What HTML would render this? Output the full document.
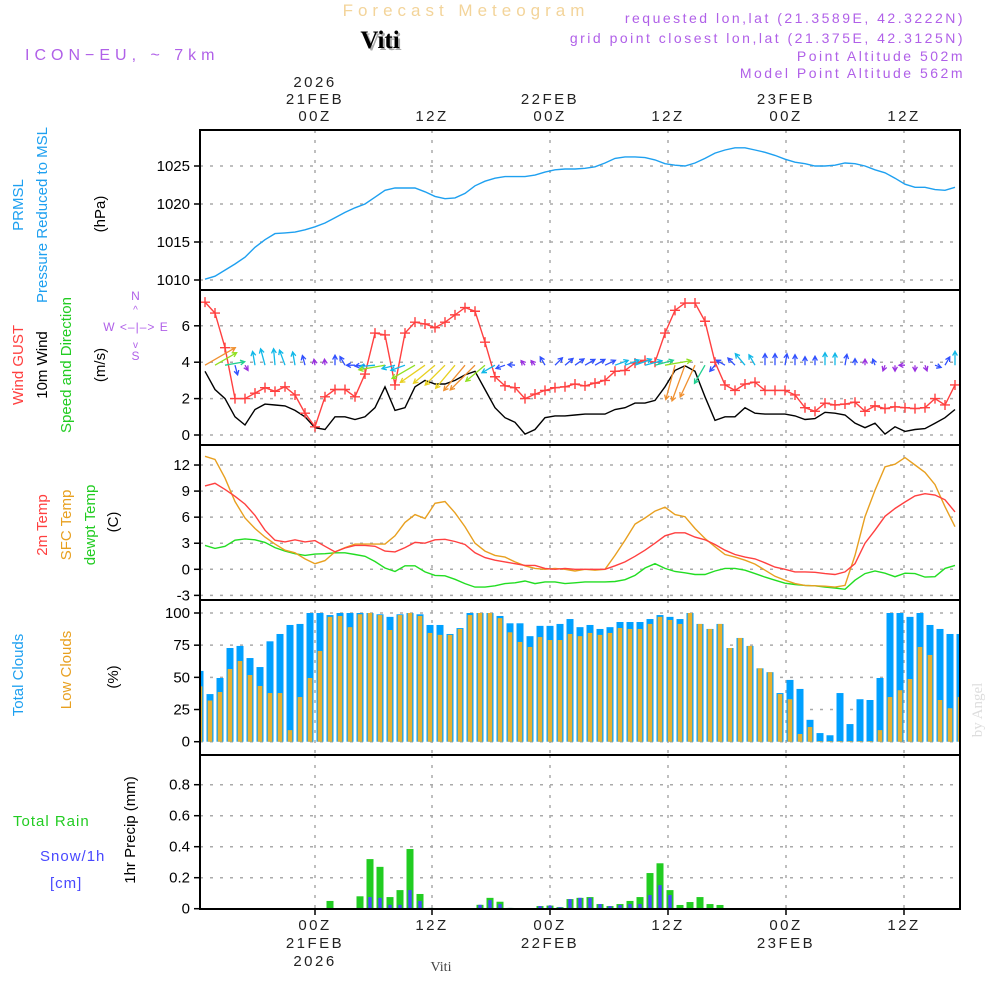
<!DOCTYPE html>
<html><head><meta charset="utf-8">
<style>
html,body{margin:0;padding:0;background:#fff;}
svg{display:block;font-family:"Liberation Sans",sans-serif;}
</style></head>
<body>
<svg id="chart" width="1000" height="1000" viewBox="0 0 1000 1000" xmlns="http://www.w3.org/2000/svg">
<defs><clipPath id="plotclip"><rect x="201" y="0" width="758" height="1000"/></clipPath></defs>
<text x="466" y="16" text-anchor="middle" font-size="17" fill="#f3d49a" letter-spacing="5">Forecast Meteogram</text>
<text x="380" y="48" text-anchor="middle" font-size="25" font-weight="bold" font-family="Liberation Serif, serif" fill="#aaa" transform="translate(2,2)">Viti</text>
<text x="380" y="48" text-anchor="middle" font-size="25" font-weight="bold" font-family="Liberation Serif, serif" fill="#000">Viti</text>
<text x="25" y="60" font-size="16" fill="#b060e8" letter-spacing="5">ICON−EU, ~ 7km</text>
<g font-size="14" fill="#b060e8" text-anchor="end" letter-spacing="2.5">
<text x="965" y="23">requested lon,lat (21.3589E, 42.3222N)</text>
<text x="965" y="43">grid point closest lon,lat (21.375E, 42.3125N)</text>
<text x="965" y="61">Point Altitude 502m</text>
<text x="965" y="78">Model Point Altitude 562m</text>
</g>
<g id="grid"></g>
<g id="marks" clip-path="url(#plotclip)"></g>
<g id="frames"></g>
<g id="labels"></g>
<text x="441" y="971" text-anchor="middle" font-size="14" font-family="Liberation Serif, serif" fill="#444">Viti</text>
<text transform="translate(982,710) rotate(-90)" text-anchor="middle" font-size="15" font-family="Liberation Serif, serif" fill="#ddd">by Angel</text>
</svg>
<script>
const NS="http://www.w3.org/2000/svg";
// ---- data (hourly) ----
const pressure=[1010.1,1010.5,1011.3,1012.1,1013,1014.3,1015.3,1016.1,1016.2,1016.3,1016.6,1017,1017.5,1018.2,1018.9,1019.5,1020,1020.9,1021.8,1022.1,1022.1,1022.1,1021.6,1021,1020.7,1020.8,1021.4,1022.4,1023,1023.4,1023.6,1023.6,1023.6,1023.8,1024.2,1024.5,1024.6,1024.6,1024.7,1024.9,1025.4,1026,1026.2,1026.2,1026.1,1025.8,1025.3,1025.1,1025,1025.4,1026,1026.7,1027.1,1027.4,1027.4,1027.1,1026.8,1026.4,1025.9,1025.5,1025.3,1025,1025,1025.1,1025.4,1025.3,1025,1024.5,1024.1,1023.4,1022.6,1022.2,1022.2,1021.9,1021.8,1022.2];
const gust=[7.3,6.7,4.8,2.0,2.0,2.3,2.6,2.4,2.65,2.2,1.2,0.45,2.1,2.5,2.5,2.1,3.35,5.6,5.5,2.75,5.6,6.2,6.1,5.9,6.2,6.6,7.0,6.8,5.1,3.2,2.7,2.6,2.0,2.25,2.45,2.6,2.65,2.8,2.7,2.85,3.0,3.5,3.55,3.95,4.1,4.0,5.6,6.85,7.25,7.25,6.25,4.0,2.75,2.45,2.8,2.9,2.45,2.45,2.45,2.2,1.5,1.3,1.75,1.65,1.7,1.8,1.3,1.6,1.45,1.55,1.5,1.45,1.5,2.0,1.65,2.75];
const wind10=[3.5,2.5,2.0,1.0,0.55,1.4,1.7,1.65,1.6,1.35,1.0,0.4,0.3,1.0,1.0,0.85,1.0,1.5,2.65,1.35,1.5,2.65,3.0,2.8,2.8,3.0,3.3,3.5,2.5,1.5,0.95,0.7,0.05,0.3,0.95,1.05,1.05,1.1,1.15,1.15,1.15,1.4,1.5,1.75,1.75,1.9,2.65,3.55,3.8,3.5,2.1,0.8,1.0,1.0,1.5,1.2,1.15,1.15,1.15,1.05,0.85,0.9,1.25,1.2,1.1,0.65,0.4,0.65,0.05,0.45,0.2,0.3,0.35,0.65,0.95,1.4];
const windDir=[60,60,80,165,150,350,345,355,340,350,345,350,355,0,330,270,265,265,260,255,250,240,235,230,225,220,220,225,230,240,250,275,320,320,330,45,50,55,60,60,65,70,70,70,75,75,80,195,200,205,210,220,300,315,320,330,0,0,10,0,0,0,0,0,10,0,0,340,200,180,270,180,160,110,30,0];
const temp2m=[9.6,9.9,9.2,8.4,7.5,6.2,4.5,3.35,3.15,3.4,3.15,3.3,2.65,2.0,2.45,2.75,2.75,2.65,2.1,2.0,2.5,3.1,3.0,3.4,3.45,3.2,2.85,1.9,1.35,1.05,0.85,0.65,0.45,0.45,0.1,0.0,0.1,0.0,0.0,0.0,0.0,0.4,0.85,1.5,2.2,3.0,3.85,4.2,4.2,3.7,3.4,2.85,2.2,1.7,1.4,1.2,0.75,0.25,0,-0.3,-0.3,-0.35,-0.5,-0.6,-0.3,0.65,3.0,4.5,6.1,7.0,7.75,8.45,8.7,8.55,8.0,6.6];
const tempSfc=[13.0,12.65,10.5,7.8,5.9,4.7,3.7,2.9,2.2,1.9,1.2,0.65,1.0,2.0,2.5,2.9,2.9,2.9,2.9,3.85,5.4,6.3,5.85,7.6,7.8,6.5,4.9,3.0,2.1,1.6,1.4,0.85,0.4,0.1,0.0,0.1,0.0,-0.2,0.0,-0.1,0.0,1.6,3.35,5.2,5.9,6.7,7.15,6.3,6.05,4.7,3.55,2.6,1.7,1.4,1.05,0.6,-0.1,-0.8,-1.25,-1.65,-1.85,-1.9,-1.95,-2.05,-1.85,1.6,6.05,9.1,11.8,12.1,12.85,12.0,11.15,9.75,7.2,4.9];
const dewpt=[2.75,2.4,2.65,3.35,3.5,3.4,3.1,2.5,2.1,1.8,1.6,1.75,1.8,1.9,1.9,1.7,1.5,0.9,0.15,-0.25,0.4,0.4,-0.3,-0.7,-0.75,-1.15,-1.65,-2.05,-2.05,-1.9,-1.65,-1.55,-1.35,-1.65,-1.45,-1.45,-1.65,-1.55,-1.45,-1.45,-1.45,-1.4,-1.2,-0.7,0.15,0.65,0.1,-0.25,-0.4,-0.6,-0.6,-0.2,0.1,0.1,-0.1,-0.5,-0.9,-1.25,-1.6,-1.75,-1.85,-1.9,-2.05,-2.15,-2.3,-1.25,-0.5,-0.2,-0.45,-0.85,-0.45,-0.5,-0.9,-0.85,0.1,0.45];
const totalCloud=[55,37,49.5,72.8,74.4,65,58,78,83.7,90.7,91.5,100,100,98.4,100,100,100,100,99,97,99,100,99,90.7,90.7,83.7,88.3,100,100,100,97.7,92,92,82,90,90,91.5,95.3,89,90.7,87.6,89,93,93,93,95.3,98.4,97,95.3,100,91.5,87.6,91.5,72.8,80.6,74.4,57,54,37.8,48,41,17,6.7,5,37.8,13.7,33,32.4,49.5,100,100,97,100,90.7,87.6,83.7,83.7];
const lowCloud=[43,32,38.6,56.5,62.7,51.8,43.3,37.8,37.8,9,34.7,49.5,70.5,97,97.7,89,99,100,98.4,86.8,98.4,100,97.7,84.5,83,83,87.6,98.4,100,100,96,85,77.5,73.6,81.3,79,79,83.7,82,84.5,83,84.5,88.3,87.6,87.6,91.5,97,94.6,91.5,100,91.5,87.6,91.5,72.8,80.6,74.4,57,54,37,33,6,11.4,0.5,0.5,0.5,0.5,0.5,0.5,9,34.7,40,48.7,73.6,67.4,32.4,26,34.7];
const totalRain=[0,0,0,0,0,0,0,0,0,0,0,0,0,0.05,0,0,0.08,0.32,0.27,0.075,0.12,0.385,0.095,0.005,0,0,0,0,0.025,0.07,0.045,0.005,0,0.004,0.017,0.02,0.01,0.062,0.07,0.075,0.03,0.017,0.03,0.05,0.075,0.23,0.293,0.12,0.024,0.043,0.075,0.03,0.024,0.003,0,0,0,0,0,0,0,0,0,0,0,0,0,0,0,0,0,0,0,0.004,0,0,0];
const snow=[0,0,0,0,0,0,0,0,0,0,0,0,0.004,0,0,0,0.005,0.075,0.07,0.025,0.025,0.12,0.05,0.005,0,0,0,0,0.025,0.055,0.03,0.005,0,0.004,0.017,0.02,0.01,0.062,0.07,0.07,0.03,0.017,0.024,0.03,0.03,0.088,0.152,0.088,0,0,0,0,0,0,0,0,0,0,0,0,0,0,0,0,0,0,0,0,0,0,0,0,0,0.004,0,0,0];
const pTicks=[1010,1015,1020,1025];
const wTicks=[0,2,4,6];
const tTicks=[-3,0,3,6,9,12];
const cTicks=[0,25,50,75,100];
const rTicks=[0,0.2,0.4,0.6,0.8];
const timeTicks=[{x:315,t:"00Z",d:"21FEB",y:"2026"},{x:432,t:"12Z"},{x:550,t:"00Z",d:"22FEB"},{x:668,t:"12Z"},{x:786,t:"00Z",d:"23FEB"},{x:904,t:"12Z"}];

// ---- scales ----
const xLine=i=>205+10*i;
const xBar=i=>200+10*i;
const yP=v=>280-(v-1010)*7.6;
const yW=v=>435-v*18.2;
const yT=v=>569.3-v*8.69;
const yC=v=>741.7-v*1.287;
const yR=v=>908.7-v*155;
const panels=[{top:130,bot:290,ticks:pTicks,ys:yP,name:"pressure"},{top:290,bot:445,ticks:wTicks,ys:yW,name:"wind"},{top:445,bot:600,ticks:tTicks,ys:yT,name:"temperature"},{top:600,bot:755,ticks:cTicks,ys:yC,name:"clouds"},{top:755,bot:909,ticks:rTicks,ys:yR,name:"precip"}];

function mk(tag,attrs,parent){const e=document.createElementNS(NS,tag);for(const k in attrs)e.setAttribute(k,attrs[k]);parent.appendChild(e);return e;}
const grid=document.getElementById('grid'),marks=document.getElementById('marks'),frames=document.getElementById('frames'),labels=document.getElementById('labels');

panels.forEach(p=>{
  p.ticks.forEach(v=>{
    const y=p.ys(v);
    const g=mk('line',{x1:200,x2:960,y1:y,y2:y,stroke:'#aaa','stroke-width':1.5,'stroke-dasharray':'3 7'},grid);
    
    
    mk('line',{x1:194,x2:200,y1:y,y2:y,stroke:'#000','stroke-width':1.5},frames);
    const t=mk('text',{x:190,y:y+5,'text-anchor':'end','font-size':15,fill:'#000'},labels);
    t.textContent=String(v);
    
    
  });
  timeTicks.forEach(tt=>{
    const g=mk('line',{x1:tt.x,x2:tt.x,y1:p.top,y2:p.bot,stroke:'#aaa','stroke-width':1.5,'stroke-dasharray':'3 7'},grid);
    
    
  });
  const r=mk('rect',{x:200,y:p.top,width:760,height:p.bot-p.top,fill:'none',stroke:'#000','stroke-width':2},frames);
  
  
});
timeTicks.forEach(tt=>{
  mk('line',{x1:tt.x,x2:tt.x,y1:909,y2:915,stroke:'#000','stroke-width':1.5},frames);
  const lines=[[tt.t,121],[tt.d,104],[tt.y,87]];
  lines.forEach(l=>{if(!l[0])return;const t=mk('text',{x:tt.x,y:l[1],'text-anchor':'middle','font-size':15,fill:'#222','letter-spacing':2.5},labels);t.textContent=l[0];
    
    });
  const bl=[[tt.t,930],[tt.d,948],[tt.y,966]];
  bl.forEach(l=>{if(!l[0])return;const t=mk('text',{x:tt.x,y:l[1],'text-anchor':'middle','font-size':15,fill:'#222','letter-spacing':2.5},labels);t.textContent=l[0];
    
    });
});

function line(arr,xs,ys,color,name,w){
  const d=arr.map((v,i)=>(i?'L':'M')+xs(i).toFixed(1)+','+ys(v).toFixed(1)).join('');
  const p=mk('path',{d:d,fill:'none',stroke:color,'stroke-width':w||1.4},marks);
  
  
  return p;
}
line(pressure,xLine,yP,'#1ea0f0','pressure-line');
totalCloud.forEach((v,i)=>{
  const b=mk('rect',{x:xBar(i)-3.5,y:yC(v),width:7,height:yC(0)-yC(v),fill:'#00a0ff'},marks);
  
  
});
lowCloud.forEach((v,i)=>{
  const b=mk('rect',{x:xBar(i)-2.3,y:yC(v),width:4.6,height:yC(0)-yC(v),fill:'#e8b030'},marks);
  
  
});
totalRain.forEach((v,i)=>{
  if(v<=0)return;
  const b=mk('rect',{x:xBar(i)-3.5,y:yR(v),width:7,height:yR(0)-yR(v),fill:'#22cc22'},marks);
  
  
});
snow.forEach((v,i)=>{
  if(v<=0)return;
  const b=mk('rect',{x:xBar(i)-1.7,y:yR(v),width:3.4,height:yR(0)-yR(v),fill:'#4848ff'},marks);
  
  
});
line(dewpt,xLine,yT,'#22dd22','dewpoint-line');
line(tempSfc,xLine,yT,'#e8a020','sfc-temp-line');
line(temp2m,xLine,yT,'#ff4040','temp-2m-line');
line(wind10,xLine,yW,'#000','wind-10m-line');
line(gust,xLine,yW,'#ff4040','gust-line');
gust.forEach((v,i)=>{
  const x=xLine(i),y=yW(v);
  const m=mk('path',{d:`M${x-5},${y}H${x+5}M${x},${y-5}V${y+5}`,stroke:'#ff4040','stroke-width':1.4},marks);
  
  
});
function spdColor(s){if(s<0.6)return '#9a30e0';if(s<1.2)return '#3050ff';if(s<1.8)return '#10b8e8';if(s<2.4)return '#20d090';if(s<2.8)return '#90e020';if(s<3.2)return '#e8d020';return '#f09030';}
windDir.forEach((deg,i)=>{
  const s=wind10[i],len=Math.max(6,s*10),a=deg*Math.PI/180;
  const x0=xLine(i),y0=yW(4)+3,x1=x0+Math.sin(a)*len,y1=y0-Math.cos(a)*len;
  const ha=0.5,hl=5;
  const bx=-Math.sin(a),by=Math.cos(a);
  const h1x=x1+hl*(bx*Math.cos(ha)-by*Math.sin(ha)),h1y=y1+hl*(bx*Math.sin(ha)+by*Math.cos(ha));
  const h2x=x1+hl*(bx*Math.cos(-ha)-by*Math.sin(-ha)),h2y=y1+hl*(bx*Math.sin(-ha)+by*Math.cos(-ha));
  const c=spdColor(s);
  const p=mk('path',{d:`M${x0},${y0}L${x1},${y1}M${h1x},${h1y}L${x1},${y1}L${h2x},${h2y}`,stroke:c,'stroke-width':1.3,fill:'none'},marks);
  
  
});

function vlab(x,y,txt,color,name,size){
  const t=mk('text',{transform:`translate(${x},${y}) rotate(-90)`,'text-anchor':'middle','font-size':size||15,fill:color},labels);
  t.textContent=txt;
  
  
}
vlab(23,205,'PRMSL','#1ea0f0','pressure-label');
vlab(47,215,'Pressure Reduced to MSL','#1ea0f0','pressure-desc-label');
vlab(105,214,'(hPa)','#000','pressure-unit');
vlab(23,365,'Wind GUST','#ff4040','gust-label');
vlab(47,365,'10m Wind','#000','wind-label');
vlab(71,365,'Speed and Direction','#22cc22','wind-desc-label');
vlab(105,365,'(m/s)','#000','wind-unit');
vlab(47,525,'2m Temp','#ff4040','temp2m-label');
vlab(71,525,'SFC Temp','#e8a020','sfc-temp-label');
vlab(95,525,'dewpt Temp','#22cc22','dewpt-label');
vlab(118,522,'(C)','#000','temp-unit');
vlab(23,675,'Total Clouds','#1ea0f0','total-cloud-label');
vlab(71,670,'Low Clouds','#e8a020','low-cloud-label');
vlab(118,677,'(%)','#000','cloud-unit');
vlab(135,830,'1hr Precip (mm)','#000','precip-unit');
function hlab(x,y,txt,color,name,size,anchor){
  const t=mk('text',{x:x,y:y,'font-size':size||15,fill:color,'text-anchor':anchor||'start','letter-spacing':1},labels);
  t.textContent=txt;
  
  
}
hlab(13,826,'Total  Rain','#22cc22','rain-legend');
hlab(40,861,'Snow/1h','#4848ff','snow-legend');
hlab(50,888,'[cm]','#4848ff','snow-unit-legend');
hlab(136,300,'N','#b060e8','compass-n',12,'middle');
hlab(136,313,'^','#b060e8','compass-up',10,'middle');
hlab(136,331,'W <–|–> E','#b060e8','compass-we',12,'middle');
hlab(136,348,'v','#b060e8','compass-down',10,'middle');
hlab(136,360,'S','#b060e8','compass-s',12,'middle');
</script>
</body></html>
